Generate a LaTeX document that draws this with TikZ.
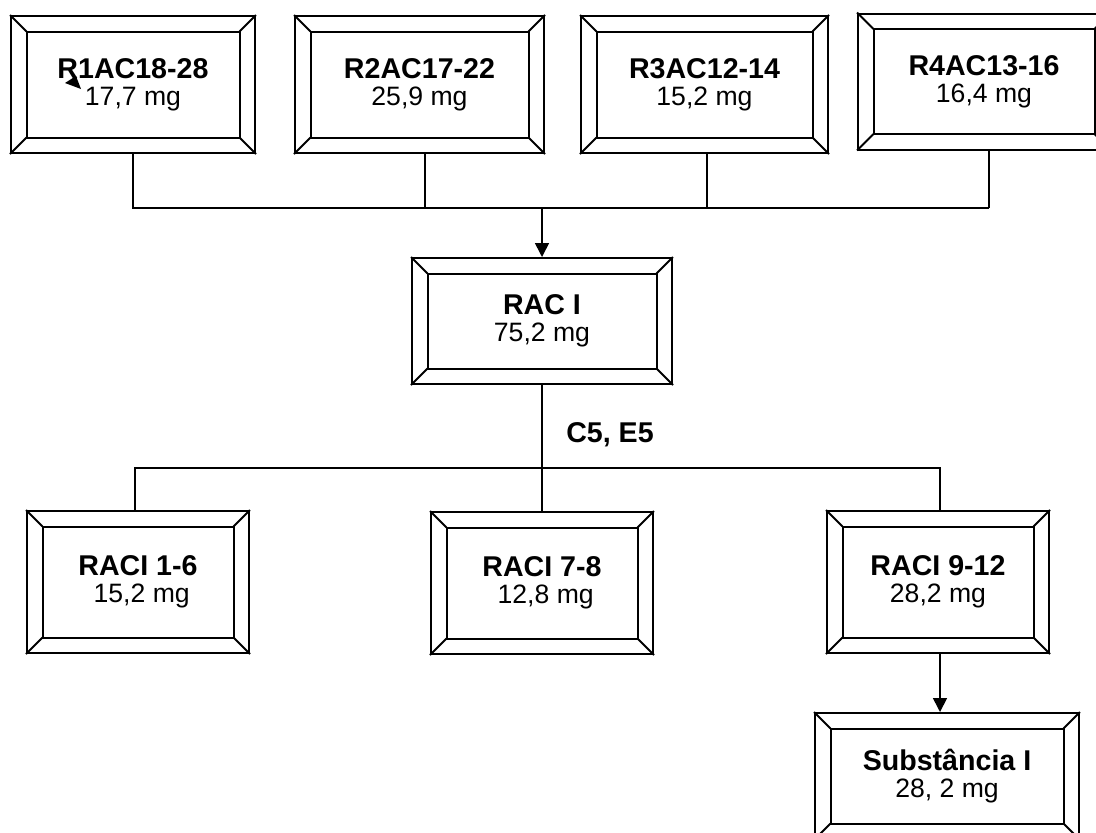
\documentclass[tikz,border=0pt]{standalone}
\usepackage{fontspec}
\setmainfont{Liberation Sans}
\usetikzlibrary{arrows.meta}

\newcommand{\valfont}{\fontsize{13.3}{13.5}\selectfont}
\newcommand{\ttlfont}{\fontsize{14.3}{13.5}\selectfont\bfseries}
\newcommand{\bev}{8.25pt}
% inner frame and corner lines of a bevelled box
\newcommand{\bevelframe}[1]{%
  \draw[frame] ([shift={(\bev,-\bev)}]#1.north west) rectangle ([shift={(-\bev,\bev)}]#1.south east);
  \draw[frame] (#1.north west) -- ([shift={(\bev,-\bev)}]#1.north west)
               (#1.north east) -- ([shift={(-\bev,-\bev)}]#1.north east)
               (#1.south west) -- ([shift={(\bev,\bev)}]#1.south west)
               (#1.south east) -- ([shift={(-\bev,\bev)}]#1.south east);}

\begin{document}
\begin{tikzpicture}[
    x=0.5pt, y=-0.5pt,
    bevbox/.style={rectangle, draw, line width=1pt, inner sep=0pt,
                   align=center, font=\valfont},
    frame/.style={line width=1pt},
    link/.style={line width=0.8pt},
    arr/.style={-{Triangle[length=7pt,width=7pt]}, line width=0.8pt}
  ]
  \clip (0,0) rectangle (1096,832);
  \useasboundingbox (0,0) rectangle (1096,832);

  % ---- fractions R1..R4 ----
  \node[bevbox, minimum width=122pt, minimum height=68.5pt] (r1) at (133,84.5)
    {{\ttlfont R1AC18-28}\\17,7 mg};
  \node[bevbox, minimum width=124.5pt, minimum height=68.5pt] (r2) at (419.5,84.5)
    {{\ttlfont R2AC17-22}\\25,9 mg};
  \node[bevbox, minimum width=123.5pt, minimum height=68.5pt] (r3) at (704.5,84.5)
    {{\ttlfont R3AC12-14}\\15,2 mg};
  \node[bevbox, minimum width=126pt, minimum height=68pt] (r4) at (984,81.5)
    {{\ttlfont R4AC13-16}\\16,4 mg};
  \fill (65,83) -- (76,76) -- (81,89) -- cycle;

  % ---- RAC I ----
  \node[bevbox, minimum width=130pt, minimum height=63pt] (rac) at (542,321)
    {{\ttlfont RAC I}\\75,2 mg};
  \node[font=\ttlfont] (ce) at (610,435) {C5, E5};

  % ---- RACI fractions ----
  \node[bevbox, minimum width=111pt, minimum height=71pt] (raci16) at (138,582)
    {{\ttlfont RACI 1-6}\\\ 15,2 mg};
  \node[bevbox, minimum width=111pt, minimum height=71pt] (raci78) at (542,583)
    {{\ttlfont RACI 7-8}\\\ 12,8 mg};
  \node[bevbox, minimum width=111pt, minimum height=71pt] (raci912) at (938,582)
    {{\ttlfont RACI 9-12}\\28,2 mg};
  \node[bevbox, minimum width=132pt, minimum height=63pt] (subst) at (947,776)
    {{\ttlfont Substância I}\\28, 2 mg};

  \foreach \n in {r1,r2,r3,r4,rac,raci16,raci78,raci912,subst}
    \bevelframe{\n};

  % ---- connectors ----
  \coordinate (bus) at (541,208);
  \coordinate (bus2) at (541,468);
  \draw[link] (r1.south) -- (r1.south |- bus) -- ([xshift=2.5pt]r4.south |- bus);
  \draw[link] ([xshift=2.75pt]r2.south) -- ([xshift=2.75pt]r2.south |- bus);
  \draw[link] ([xshift=1.25pt]r3.south) -- ([xshift=1.25pt]r3.south |- bus);
  \draw[link] ([xshift=2.5pt]r4.south) -- ([xshift=2.5pt]r4.south |- bus);
  \draw[arr] (rac.north |- bus) -- (rac.north);
  \draw[link] (rac.south) -- (rac.south |- bus2);
  \draw[link] ([xshift=-1.5pt]raci16.north) -- ([xshift=-1.5pt]raci16.north |- bus2)
    -- ([xshift=1pt]raci912.north |- bus2) -- ([xshift=1pt]raci912.north);
  \draw[link] (raci78.north) -- (raci78.north |- bus2);
  \draw[arr] ([xshift=1pt]raci912.south) -- ([xshift=1pt]raci912.south |- subst.north);

\end{tikzpicture}
\end{document}
